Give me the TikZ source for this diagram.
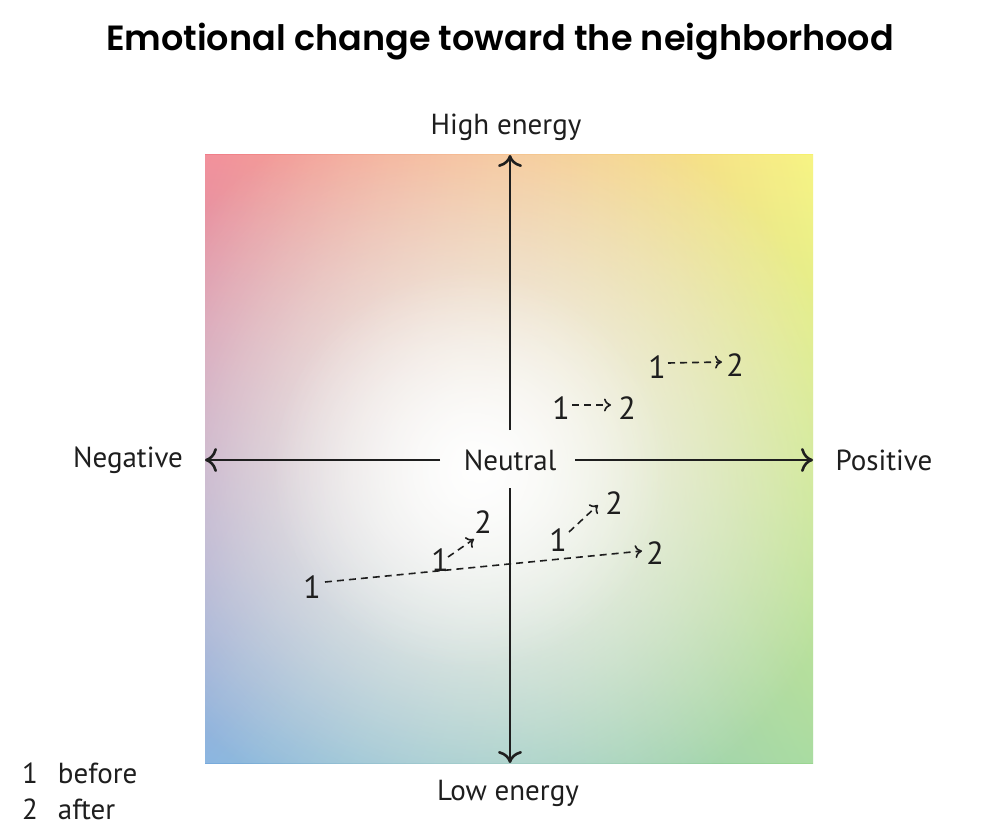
\documentclass[tikz,border=0pt]{standalone}
\usepackage{fontspec}
\setmainfont{PT Sans}
\newfontfamily\titlefont{Poppins SemiBold}
\usetikzlibrary{arrows.meta,fadings,shadings}
\tikzfading[name=cfade, inner color=transparent!0, outer color=transparent!100]
\definecolor{cTL}{RGB}{240,125,138}
\definecolor{cTR}{RGB}{246,242,110}
\definecolor{cBR}{RGB}{155,214,145}
\definecolor{cBL}{RGB}{120,170,220}
\definecolor{ink}{RGB}{30,30,30}
\tikzset{
  axis/.style={line width=2.6pt, draw=ink, -{To[length=12pt,width=24pt,line width=2.6pt]}},
  chg/.style={line width=1.6pt, draw=ink, dash pattern=on 7pt off 5pt, -{To[length=7pt,width=13pt,line width=1.6pt]}},
  lbl/.style={font=\fontsize{29}{32}\selectfont, text=ink, inner sep=0pt},
  num/.style={font=\fontsize{32}{34}\selectfont, text=ink, inner sep=0pt},
}
\begin{document}
\begin{tikzpicture}[x=1pt,y=-1pt]
\useasboundingbox (0,0) rectangle (1000,837);
\fill[white] (0,0) rectangle (1000,837);
\begin{scope}
\clip (205,155) rectangle (813,763);
\shade[upper left=cTL, upper right=cTR, lower left=cBL, lower right=cBR] (205,155) rectangle (813,763);
\fill[white, opacity=0.15] (205,155) rectangle (813,763);
\fill[white, path fading=cfade] (480,470) circle (380);
\fill[white, path fading=cfade, opacity=0.7] (470,470) circle (200);
\end{scope}
\node[font=\titlefont\fontsize{35}{40}\selectfont] (title) at (500,42) {Emotional change toward the neighborhood};
\node[lbl] (he) at (506,127) {High energy};
\node[lbl] (le) at (508,793) {Low energy};
\node[lbl] (neg) at (128,460) {Negative};
\node[lbl] (pos) at (884,460) {Positive};
\node[lbl] (neu) at (510,460) {Neutral};
\coordinate (vt) at (510,155); \coordinate (vb) at (510,763);
\coordinate (hl) at (205,460); \coordinate (hr) at (813,460);
\coordinate (vu) at (510,430); \coordinate (vd) at (510,488);
\coordinate (hlg) at (440,460); \coordinate (hrg) at (575,460);
\draw[axis] (vu) -- (vt);
\draw[axis] (vd) -- (vb);
\draw[axis] (hlg) -- (hl);
\draw[axis] (hrg) -- (hr);
% pairs
\node[num] (a1) at (657,367) {1}; \node[num] (a2) at (735,365) {2};
\draw[chg] (668,363) coordinate (as) -- (722,362) coordinate (ae);
\node[num] (b1) at (561,408) {1}; \node[num] (b2) at (627,408) {2};
\draw[chg] (572,405) coordinate (bs) -- (611,405) coordinate (be);
\node[num] (c1) at (312,587) {1}; \node[num] (c2) at (655,553) {2};
\draw[chg] (325,582) coordinate (cs) -- (642,551) coordinate (ce);
\node[num] (d1) at (440,560) {1}; \node[num] (d2) at (483,522) {2};
\draw[chg] (448,557) coordinate (ds) -- (474,539) coordinate (de);
\node[num] (e1) at (558,540) {1}; \node[num] (e2) at (614,503) {2};
\draw[chg] (569,532) coordinate (es) -- (598,505) coordinate (ee);
% legend
\node[lbl, anchor=west] (l1) at (22,773) {1\hspace{20pt}before};
\node[lbl, anchor=west] (l2) at (22,809) {2\hspace{20pt}after};
\end{tikzpicture}
\end{document}
